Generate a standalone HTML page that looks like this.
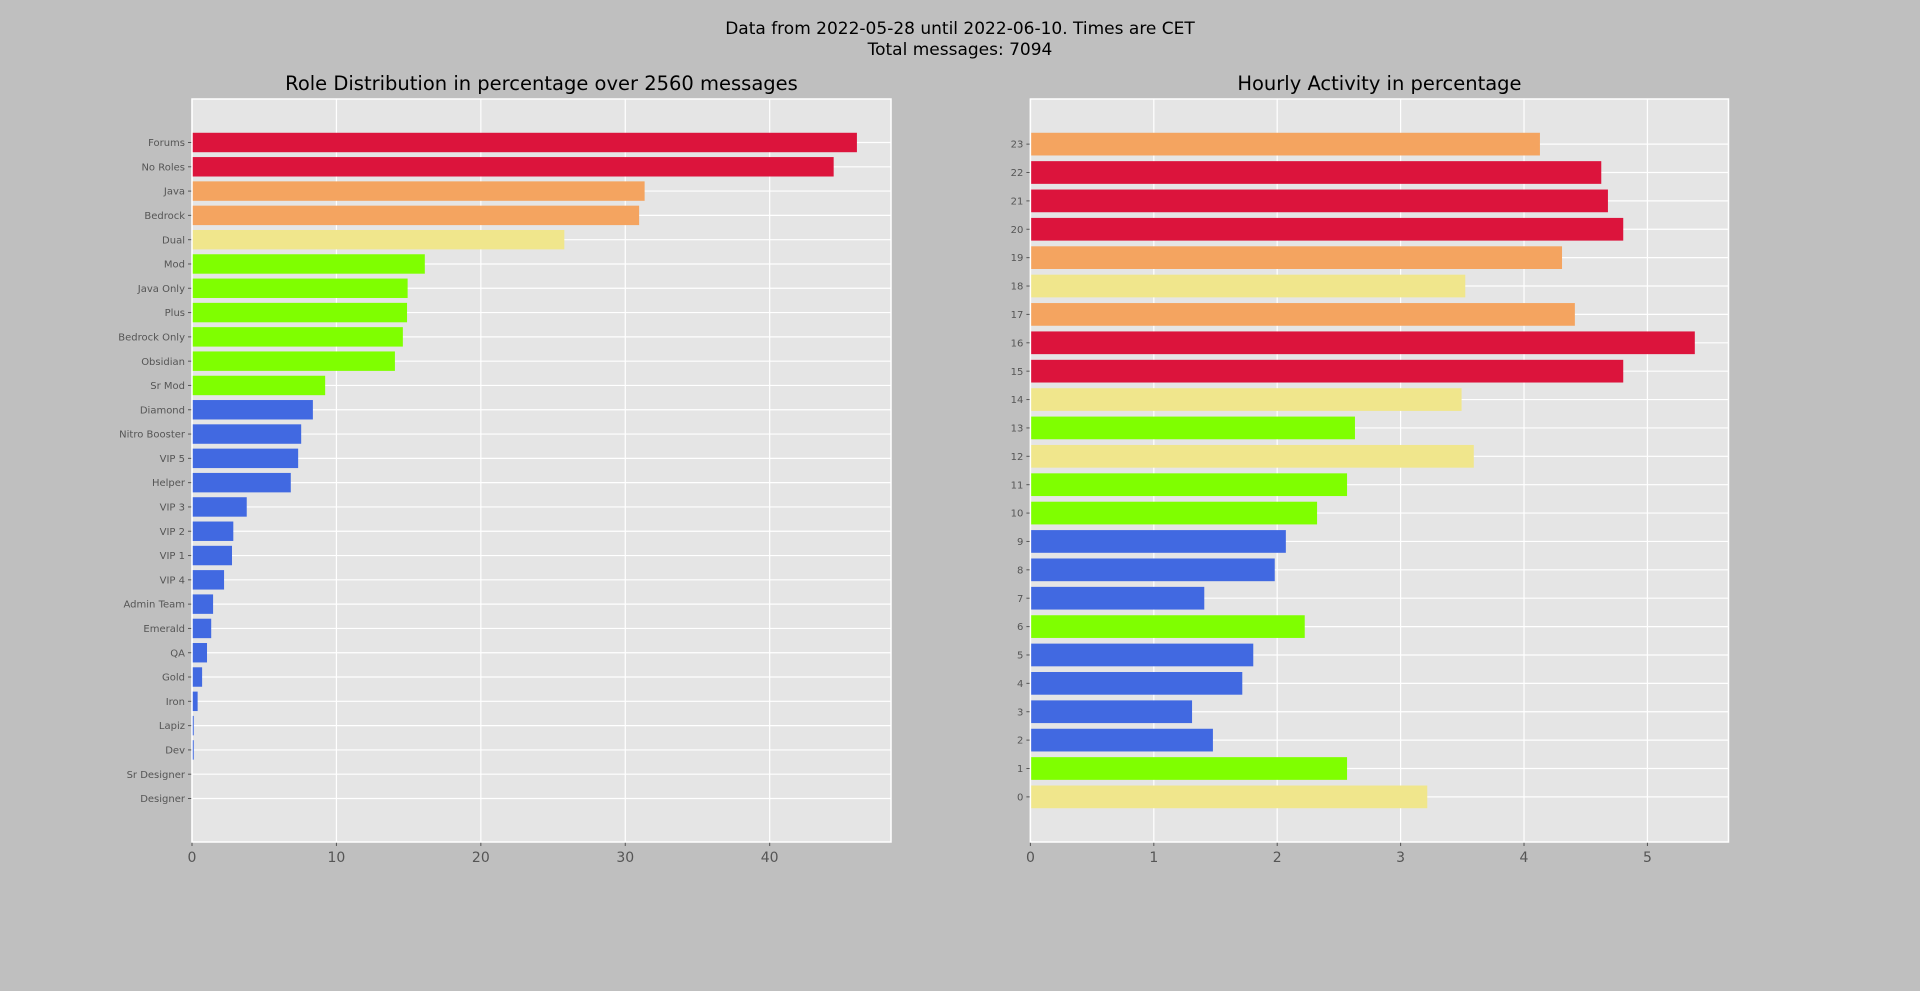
<!DOCTYPE html>
<html><head><meta charset="utf-8">
<style>
html,body{margin:0;padding:0;background:#bfbfbf;}
svg{display:block;font-family:"DejaVu Sans","Liberation Sans",sans-serif;}
</style></head>
<body>
<svg id="fig" width="1920" height="991" viewBox="0 0 1920 991">
<rect x="0" y="0" width="1920" height="991" fill="#bfbfbf"/>
<text x="960" y="34" text-anchor="middle" font-size="17" fill="#000">Data from 2022-05-28 until 2022-06-10. Times are CET</text>
<text x="960" y="55" text-anchor="middle" font-size="17" fill="#000">Total messages: 7094</text>
<g id="left"></g>
<g id="right"></g>
</svg>
<script>
const roleCategories = ["Designer","Sr Designer","Dev","Lapiz","Iron","Gold","QA","Emerald","Admin Team","VIP 4","VIP 1","VIP 2","VIP 3","Helper","VIP 5","Nitro Booster","Diamond","Sr Mod","Obsidian","Bedrock Only","Plus","Java Only","Mod","Dual","Bedrock","Java","No Roles","Forums"];
const roleValues = [0,0,0.12,0.12,0.39,0.70,1.04,1.33,1.46,2.22,2.77,2.86,3.79,6.84,7.35,7.56,8.37,9.22,14.05,14.6,14.89,14.93,16.12,25.78,30.96,31.34,44.43,46.04];
const roleXTicks = [0,10,20,30,40];
const roleThresholds = [40,28,20,9];
const hourCategories = ["0","1","2","3","4","5","6","7","8","9","10","11","12","13","14","15","16","17","18","19","20","21","22","23"];
const hourValues = [3.216,2.566,1.479,1.310,1.717,1.806,2.223,1.409,1.980,2.070,2.323,2.566,3.593,2.630,3.494,4.804,5.384,4.412,3.524,4.308,4.804,4.680,4.626,4.129];
const hourXTicks = [0,1,2,3,4,5];
const hourThresholds = [4.6,4.1,3.2,2.2];
const palette = ["#dc143c","#f4a460","#f0e68c","#7fff00","#4169e1"];

const NS="http://www.w3.org/2000/svg";
function mk(tag, attrs, parent){const e=document.createElementNS(NS,tag);for(const k in attrs)e.setAttribute(k,attrs[k]);parent.appendChild(e);return e;}

function drawChart(g, cats, vals, ticks, thr, box, title, ylabelSize, prefix){
  const n=cats.length;
  const xmax=box.xmax;
  const pad=0.05*(n-1+0.8);
  const ymin=-0.4-pad, ymax=n-1+0.4+pad;
  const X=v=>box.l+(v/xmax)*(box.r-box.l);
  const Y=i=>box.b-((i-ymin)/(ymax-ymin))*(box.b-box.t);
  const bg=mk('rect',{x:box.l,y:box.t,width:box.r-box.l,height:box.b-box.t,fill:'#e5e5e5'},g);
  
  
  ticks.forEach(t=>{
    const l=mk('line',{x1:X(t),x2:X(t),y1:box.t,y2:box.b,stroke:'#fff','stroke-width':1.2},g);
    
    
    const tk=mk('line',{x1:X(t),x2:X(t),y1:box.b,y2:box.b+4,stroke:'#555','stroke-width':1},g);
    
    
    const tx=mk('text',{x:X(t),y:box.b+20,'text-anchor':'middle','font-size':14,fill:'#555'},g);
    tx.textContent=String(t);
    
    
  });
  cats.forEach((c,i)=>{
    const y=Y(i);
    const l=mk('line',{x1:box.l,x2:box.r,y1:y,y2:y,stroke:'#fff','stroke-width':1.2},g);
    
    
  });
  const bh=0.8*(box.b-box.t)/(ymax-ymin);
  cats.forEach((c,i)=>{
    const v=vals[i];
    let ci=4;
    for(let k=0;k<thr.length;k++){ if(v>=thr[k]){ci=k;break;} }
    const y=Y(i);
    const r=mk('rect',{x:X(0),y:y-bh/2,width:Math.max(0,X(v)-X(0)),height:bh,fill:palette[ci]},g);
    
    
    const tk=mk('line',{x1:box.l-4,x2:box.l,y1:y,y2:y,stroke:'#555','stroke-width':1},g);
    
    
    const tx=mk('text',{x:box.l-7,y:y+ylabelSize*0.36,'text-anchor':'end','font-size':ylabelSize,fill:'#555'},g);
    tx.textContent=c;
    
    
  });
  const fr=mk('rect',{x:box.l,y:box.t,width:box.r-box.l,height:box.b-box.t,fill:'none',stroke:'#fff','stroke-width':1.5},g);
  
  
  const tt=mk('text',{x:(box.l+box.r)/2,y:box.t-9,'text-anchor':'middle','font-size':19.5,fill:'#000'},g);
  tt.textContent=title;
  
  
}

drawChart(document.getElementById('left'), roleCategories, roleValues, roleXTicks, roleThresholds,
  {l:192,r:891,t:99,b:842,xmax:48.4}, "Role Distribution in percentage over 2560 messages", 10, 'role');
drawChart(document.getElementById('right'), hourCategories, hourValues, hourXTicks, hourThresholds,
  {l:1030.4,r:1728.5,t:99,b:842,xmax:5.657}, "Hourly Activity in percentage", 10, 'hourly');
</script>
</body></html>
